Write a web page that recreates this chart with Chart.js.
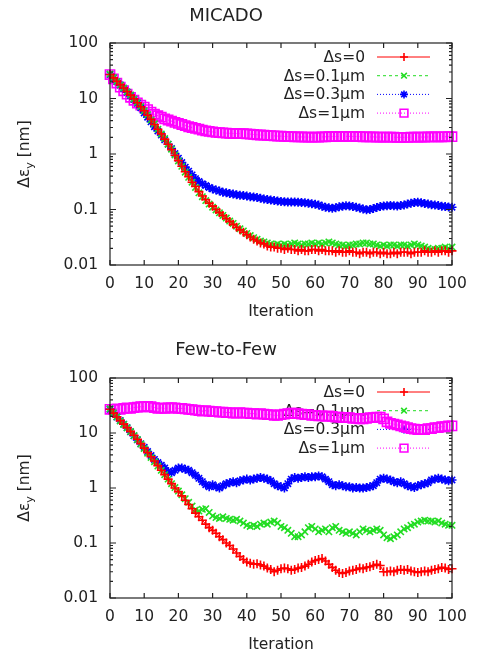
<!DOCTYPE html>
<html><head><meta charset="utf-8">
<script src="https://cdn.jsdelivr.net/npm/chart.js@4"></script>
<style>
html,body{margin:0;padding:0;background:#fff;}
#wrap{position:relative;width:477px;height:657px;}
canvas{position:absolute;left:0;display:block;}
</style></head><body>
<div id="wrap">
<canvas id="c1" width="477" height="330" style="top:0"></canvas>
<canvas id="c2" width="477" height="327" style="top:330px"></canvas>
</div>
<script>
// ---------- data ----------
const iterations = [0,1,2,3,4,5,6,7,8,9,10,11,12,13,14,15,16,17,18,19,20,21,22,23,24,25,26,27,28,29,30,31,32,33,34,35,36,37,38,39,40,41,42,43,44,45,46,47,48,49,50,51,52,53,54,55,56,57,58,59,60,61,62,63,64,65,66,67,68,69,70,71,72,73,74,75,76,77,78,79,80,81,82,83,84,85,86,87,88,89,90,91,92,93,94,95,96,97,98,99,100];
const seriesNames = ['Δs=0', 'Δs=0.1µm', 'Δs=0.3µm', 'Δs=1µm'];
const chartTitles = ['MICADO', 'Few-to-Few'];
const xTicks = [0,10,20,30,40,50,60,70,80,90,100];
const yTicks = [0.01,0.1,1,10,100];

// MICADO
const micado_ds0 = [27,23.5,20.5,17.8,15.5,13.4,11.5,9.9,8.4,7.1,6.0,5.0,4.2,3.4,2.8,2.3,1.85,1.5,1.2,0.95,0.76,
 0.6,0.48,0.39,0.31,0.26,0.21,0.175,0.15,0.13,0.115,0.1,0.088,0.078,0.069,0.061,0.054,0.048,0.043,0.039,0.035,
 0.032,0.029,0.027,0.025,0.024,0.022,0.021,0.021,0.020,0.020,0.019,0.020,0.019,0.019,0.018,0.019,0.018,0.018,0.019,0.019,
 0.018,0.019,0.018,0.018,0.018,0.017,0.018,0.017,0.017,0.018,0.017,0.017,0.016,0.017,0.017,0.016,0.017,0.017,0.016,0.017,
 0.016,0.016,0.017,0.016,0.017,0.017,0.017,0.016,0.017,0.017,0.017,0.018,0.017,0.017,0.018,0.017,0.018,0.018,0.017,0.018];
const micado_ds01 = [27.5,23.8,20.3,17.6,15.4,13.2,11.6,9.8,8.5,7.2,6.0,5.1,4.1,3.5,2.8,2.3,1.9,1.5,1.22,0.96,0.75,
 0.6,0.47,0.38,0.31,0.25,0.2,0.17,0.145,0.125,0.11,0.098,0.087,0.078,0.07,0.062,0.056,0.05,0.045,0.041,0.037,
 0.034,0.031,0.029,0.027,0.026,0.025,0.024,0.023,0.024,0.023,0.024,0.023,0.024,0.025,0.024,0.023,0.024,0.024,0.025,0.024,
 0.025,0.024,0.025,0.026,0.025,0.024,0.023,0.023,0.022,0.023,0.023,0.024,0.024,0.025,0.025,0.024,0.024,0.023,0.022,0.023,
 0.022,0.023,0.023,0.022,0.023,0.023,0.022,0.023,0.024,0.023,0.022,0.021,0.02,0.019,0.019,0.02,0.02,0.021,0.02,0.021];
const micado_ds03 = [27,23.2,20,17.5,15.2,13,11.3,9.6,8.2,6.8,5.5,4.6,3.8,3.1,2.6,2.2,1.8,1.5,1.25,1.02,0.84,
 0.7,0.58,0.49,0.42,0.36,0.32,0.29,0.27,0.25,0.235,0.225,0.215,0.205,0.2,0.195,0.19,0.185,0.18,0.178,0.175,
 0.17,0.168,0.165,0.16,0.155,0.152,0.148,0.145,0.142,0.14,0.138,0.137,0.136,0.136,0.135,0.134,0.133,0.13,0.127,0.124,
 0.12,0.115,0.11,0.107,0.105,0.108,0.112,0.115,0.117,0.116,0.113,0.11,0.106,0.102,0.099,0.1,0.104,0.109,0.113,0.116,
 0.117,0.118,0.117,0.116,0.118,0.121,0.125,0.13,0.134,0.135,0.132,0.128,0.125,0.122,0.12,0.118,0.115,0.113,0.111,0.11];
const micado_ds1 = [27,22.5,19,16,13.8,12,10.5,9.3,8.3,7.6,7.0,6.3,5.7,5.2,4.9,4.6,4.3,4.1,3.9,3.7,3.55,
 3.4,3.25,3.1,3.0,2.9,2.8,2.7,2.6,2.55,2.5,2.45,2.42,2.4,2.38,2.36,2.35,2.34,2.33,2.32,2.3,
 2.28,2.25,2.22,2.2,2.18,2.16,2.14,2.12,2.1,2.1,2.08,2.06,2.05,2.04,2.03,2.03,2.02,2.02,2.01,2.01,
 2.02,2.03,2.04,2.05,2.06,2.06,2.07,2.07,2.08,2.08,2.07,2.06,2.05,2.04,2.04,2.03,2.03,2.02,2.02,2.02,
 2.02,2.01,2.01,2.0,2.0,2.0,2.0,2.01,2.01,2.02,2.02,2.02,2.03,2.03,2.03,2.04,2.04,2.04,2.05,2.05];

// Few-to-Few
const f2f_ds0 = [27,23,19.5,16.8,14.5,12.5,10.7,9.1,7.7,6.4,5.3,4.4,3.7,3.1,2.55,2.1,1.75,1.45,1.2,1.0,0.86,
 0.72,0.6,0.5,0.42,0.35,0.3,0.26,0.22,0.19,0.17,0.15,0.13,0.115,0.1,0.09,0.078,0.066,0.057,0.05,0.045,
 0.043,0.041,0.042,0.04,0.038,0.035,0.033,0.03,0.032,0.034,0.035,0.034,0.032,0.033,0.035,0.036,0.038,0.041,0.045,0.048,
 0.05,0.052,0.047,0.041,0.036,0.032,0.029,0.028,0.029,0.031,0.032,0.033,0.035,0.034,0.036,0.037,0.039,0.041,0.039,0.03,
 0.03,0.031,0.03,0.032,0.033,0.032,0.033,0.031,0.03,0.029,0.03,0.031,0.03,0.032,0.033,0.034,0.036,0.035,0.033,0.034];
const f2f_ds01 = [27.5,23.3,19.7,16.6,14.3,12.4,10.6,9.0,7.6,6.3,5.2,4.3,3.6,3.0,2.5,2.1,1.75,1.45,1.2,1.02,0.88,
 0.75,0.64,0.55,0.47,0.4,0.38,0.41,0.42,0.36,0.31,0.29,0.28,0.3,0.28,0.27,0.26,0.27,0.25,0.23,0.21,
 0.2,0.21,0.2,0.22,0.23,0.22,0.24,0.25,0.23,0.2,0.19,0.17,0.15,0.13,0.13,0.14,0.16,0.19,0.2,0.18,
 0.16,0.17,0.18,0.16,0.19,0.2,0.17,0.16,0.15,0.16,0.15,0.14,0.16,0.18,0.17,0.16,0.17,0.18,0.17,0.14,
 0.125,0.12,0.13,0.14,0.16,0.18,0.19,0.21,0.22,0.24,0.25,0.26,0.25,0.25,0.24,0.25,0.23,0.22,0.21,0.21];
const f2f_ds03 = [27,22.8,19.5,16.8,14.5,12.5,10.5,8.9,7.5,6.4,5.5,4.6,3.9,3.3,2.9,2.6,2.3,2.0,1.9,2.1,2.3,
 2.3,2.2,2.1,1.9,1.7,1.5,1.3,1.15,1.05,1.15,1.05,1.0,1.1,1.2,1.25,1.3,1.25,1.35,1.4,1.45,
 1.4,1.45,1.5,1.55,1.5,1.45,1.35,1.2,1.1,1.05,1.0,1.2,1.45,1.55,1.5,1.55,1.6,1.55,1.6,1.6,
 1.65,1.6,1.45,1.3,1.15,1.1,1.15,1.1,1.05,1.05,1.0,1.02,1.0,1.0,1.02,1.05,1.1,1.25,1.45,1.5,
 1.45,1.4,1.3,1.25,1.3,1.2,1.1,1.05,1.02,1.1,1.15,1.2,1.25,1.4,1.45,1.5,1.45,1.4,1.35,1.4];
const f2f_ds1 = [27,27,27.5,27,28,28.5,28,29,29.5,30,30,30.5,30,29,28,28.5,28,28.5,29,28.5,28,
 28,27.5,27,26.5,26,25.5,25,25.5,25,24.5,24.5,24,24,23.5,23.5,23,23,23.5,23,23,
 22.5,22.5,22,22.5,22,21.5,21.5,21,21,21.5,22,22.5,23,23,22.5,22,21.5,21.5,21,21,
 20.5,20.5,20,20.5,20,19.5,19.5,19,19,19,18.5,18.5,18,18,18.5,19,19,19.5,19.5,18,
 16,15,14.5,14,13.5,13,12.5,12,11.8,11.5,11.5,11.5,12,12,12.5,12.5,13,13,13.5,13.5];

// ---------- styling ----------
const FONT = 'DejaVu Sans';
const colors = ['#ff0000', '#22dd22', '#0000ff', '#ff00ff'];
const pointStyles = ['cross', 'crossRot', 'star', 'rect'];
const pointRadii = [4.5, 4.5, 4.5, 6.5];
const dashes = [[], [3,3], [1,2], [1,2]];

Chart.defaults.font.family = FONT;
Chart.defaults.color = '#222';

function drawMarker(ctx, style, x, y, r, color){
  ctx.save();
  ctx.strokeStyle = color; ctx.lineWidth = 1.6; ctx.setLineDash([]);
  ctx.beginPath();
  if (style === 'cross' || style === 'star') { ctx.moveTo(x-r,y); ctx.lineTo(x+r,y); ctx.moveTo(x,y-r); ctx.lineTo(x,y+r); }
  if (style === 'crossRot' || style === 'star') { const d=r*0.7071; ctx.moveTo(x-d,y-d); ctx.lineTo(x+d,y+d); ctx.moveTo(x-d,y+d); ctx.lineTo(x+d,y-d); }
  if (style === 'rect') { const s=r*0.7071; ctx.rect(x-s,y-s,2*s,2*s); }
  ctx.stroke();
  ctx.restore();
}

const framePlugin = {
  id: 'frame',
  beforeDatasetsDraw(chart){
    const ctx = chart.ctx, a = chart.chartArea;
    ctx.save();
    ctx.font = '15.5px "' + FONT + '"';
    ctx.textAlign = 'right'; ctx.textBaseline = 'middle'; ctx.fillStyle = '#222';
    chart.data.datasets.forEach((ds, i) => {
      const y = a.top + 14 + i * 18.7;
      ctx.fillText(ds.label, a.right - 87, y + 1);
      ctx.strokeStyle = ds.borderColor; ctx.lineWidth = 1;
      ctx.setLineDash(ds.borderDash || []);
      ctx.beginPath(); ctx.moveTo(a.right - 75, y); ctx.lineTo(a.right - 22, y); ctx.stroke();
      drawMarker(ctx, ds.pointStyle, a.right - 48, y, ds.pointStyle === 'rect' ? 5.5 : 4, ds.borderColor);
    });
    ctx.restore();
  },
  afterDatasetsDraw(chart){
    const ctx = chart.ctx, a = chart.chartArea;
    const xs = chart.scales.x, ys = chart.scales.y;
    ctx.save();
    ctx.strokeStyle = '#222'; ctx.lineWidth = 1.2; ctx.setLineDash([]);
    ctx.strokeRect(a.left, a.top, a.right - a.left, a.bottom - a.top);
    ctx.beginPath();
    xTicks.forEach(v => {
      const px = xs.getPixelForValue(v);
      ctx.moveTo(px, a.bottom); ctx.lineTo(px, a.bottom - 5);
      ctx.moveTo(px, a.top); ctx.lineTo(px, a.top + 5);
    });
    yTicks.forEach((d, k) => {
      const py = ys.getPixelForValue(d);
      ctx.moveTo(a.left, py); ctx.lineTo(a.left + 6, py);
      ctx.moveTo(a.right, py); ctx.lineTo(a.right - 6, py);
      if (k < yTicks.length - 1) {
        for (let m = 2; m <= 9; m++) {
          const pm = ys.getPixelForValue(m * d);
          ctx.moveTo(a.left, pm); ctx.lineTo(a.left + 3, pm);
          ctx.moveTo(a.right, pm); ctx.lineTo(a.right - 3, pm);
        }
      }
    });
    ctx.stroke();
    ctx.restore();
  },
  afterDraw(chart){
    const ctx = chart.ctx, a = chart.chartArea;
    const cy = (a.top + a.bottom) / 2, cx = 25;
    ctx.save();
    ctx.fillStyle = '#222';
    ctx.textBaseline = 'middle'; ctx.textAlign = 'left';
    const big = '15.5px "' + FONT + '"', small = '11px "' + FONT + '"';
    ctx.font = big; const w1 = ctx.measureText('Δε').width, w3 = ctx.measureText(' [nm]').width;
    ctx.font = small; const w2 = ctx.measureText('y').width;
    const total = w1 + w2 + w3;
    ctx.translate(cx, cy); ctx.rotate(-Math.PI / 2);
    let x0 = -total / 2;
    ctx.font = big; ctx.fillText('Δε', x0, 0); x0 += w1;
    ctx.font = small; ctx.fillText('y', x0, 5); x0 += w2;
    ctx.font = big; ctx.fillText(' [nm]', x0, 0);
    ctx.restore();
  }
};

function makeChart(canvasId, title, series, geom){
  const datasets = series.map((vals, i) => ({
    label: seriesNames[i],
    data: vals.map((v, j) => ({x: iterations[j], y: v})),
    borderColor: colors[i],
    backgroundColor: 'rgba(0,0,0,0)',
    borderWidth: 1,
    borderDash: dashes[i],
    pointStyle: pointStyles[i],
    pointRadius: pointRadii[i],
    pointBorderWidth: 1.6,
    pointBorderColor: colors[i],
    pointBackgroundColor: 'rgba(0,0,0,0)',
    tension: 0,
    clip: false
  }));
  return new Chart(document.getElementById(canvasId), {
    type: 'line',
    data: { datasets },
    plugins: [framePlugin],
    options: {
      responsive: false,
      animation: false,
      devicePixelRatio: 1,
      layout: { padding: { left: 0, right: 25, top: 0, bottom: 0 } },
      plugins: {
        legend: { display: false },
        tooltip: { enabled: false },
        title: {
          display: true, text: title, color: '#222',
          font: { family: FONT, size: 18, weight: 'normal', lineHeight: 1.2 },
          padding: { top: geom.titleTop, bottom: geom.titleBottom }
        }
      },
      scales: {
        x: {
          type: 'linear', min: 0, max: 100,
          afterBuildTicks: s => { s.ticks = xTicks.map(v => ({value: v})); },
          afterFit: s => { s.height = geom.xHeight; },
          grid: { display: false, drawTicks: false },
          border: { display: false },
          ticks: { padding: 10, font: { size: 15.5 }, color: '#222', maxRotation: 0, autoSkip: false },
          title: { display: true, text: 'Iteration', font: { size: 15.5 }, color: '#222', padding: { top: 0, bottom: geom.xTitlePad } }
        },
        y: {
          type: 'logarithmic', min: 0.01, max: 100,
          afterBuildTicks: s => { s.ticks = yTicks.map(v => ({value: v})); },
          afterFit: s => { s.width = 110; },
          grid: { display: false, drawTicks: false },
          border: { display: false },
          ticks: { padding: 12, font: { size: 15.5 }, color: '#222', autoSkip: false,
            callback: v => String(Number(v.toPrecision(1))) }
        }
      }
    }
  });
}

makeChart('c1', chartTitles[0], [micado_ds0, micado_ds01, micado_ds03, micado_ds1],
  { titleTop: 5.2, titleBottom: 16.2, xHeight: 65, xTitlePad: 8.7 });
makeChart('c2', chartTitles[1], [f2f_ds0, f2f_ds01, f2f_ds03, f2f_ds1],
  { titleTop: 9.2, titleBottom: 17.2, xHeight: 59, xTitlePad: 2.7 });
</script>
</body></html>
